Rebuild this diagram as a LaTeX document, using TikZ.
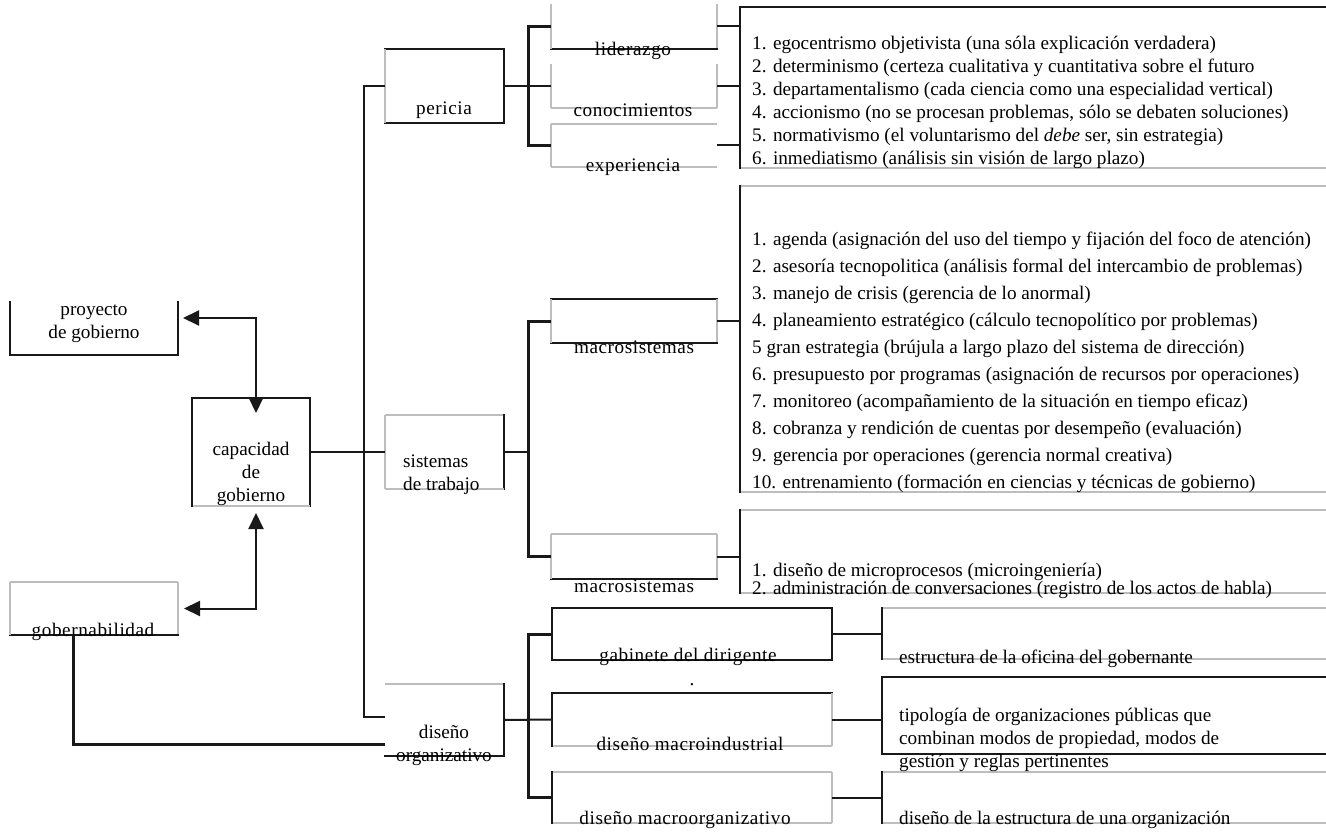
\documentclass[tikz,border=0pt]{standalone}
\usepackage{fontspec}
\setmainfont{Liberation Serif}
\usetikzlibrary{arrows.meta}

\begin{document}
\begin{tikzpicture}[x=1pt, y=-1pt,
    box/.style = {rectangle, inner sep=0pt, outer sep=0pt},
    dk/.style = {draw=black!90, line width=2pt, line cap=rect},
    lt/.style = {draw=black!26, line width=1.5pt},
    no/.style = {draw=none},
    ln/.style = {draw=black!90, line width=2pt},
    trk/.style = {draw=black!90, line width=3pt},
    dbl/.style = {ln, {Triangle[length=16pt,width=15pt]}-{Triangle[length=16pt,width=15pt]}},
    txt/.style = {inner sep=0pt, font=\fontsize{19.2}{23}\selectfont},
    lbl/.style = {inner sep=0pt, font=\fontsize{19.2}{23}\selectfont\addfontfeature{LetterSpace=3}},
    item/.style = {txt, anchor=west}]

\path[fill=white, use as bounding box] (0,0) rectangle (1326,832);

% boxes
\node[box, minimum width=168, minimum height=53] (proy) at (94,328.5) {};
\node[box, minimum width=118, minimum height=108] (cap) at (251,452) {};
\node[box, minimum width=168, minimum height=53] (gob) at (94,608.5) {};
\node[box, minimum width=119, minimum height=74] (per) at (444.5,86) {};
\node[box, minimum width=119, minimum height=74] (sis) at (444.5,452) {};
\node[box, minimum width=119, minimum height=72] (dor) at (444.5,720) {};
\node[box, minimum width=166, minimum height=45] (lid) at (634,26.5) {};
\node[box, minimum width=166, minimum height=44] (con) at (634,86) {};
\node[box, minimum width=166, minimum height=43] (exp) at (634,145.5) {};
\node[box, minimum width=166, minimum height=44] (ms1) at (634,321) {};
\node[box, minimum width=166, minimum height=45] (ms2) at (634,556.5) {};
\node[box, minimum width=280, minimum height=52] (gab) at (692,634) {};
\node[box, minimum width=280, minimum height=53] (mind) at (692,719.5) {};
\node[box, minimum width=280, minimum height=51] (morg) at (692,797.5) {};
\node[box, minimum width=586, minimum height=161] (la) at (1033,87.5) {};
\node[box, minimum width=586, minimum height=306] (lb) at (1033,339) {};
\node[box, minimum width=586, minimum height=83] (lc) at (1033,551.5) {};
\node[box, minimum width=444, minimum height=51] (ra) at (1104,633.5) {};
\node[box, minimum width=444, minimum height=77] (rb) at (1104,715.5) {};
\node[box, minimum width=444, minimum height=51] (rc) at (1104,797.5) {};

% sides: top/right/bottom/left
\foreach \bn/\bt/\br/\bb/\bl in {
    proy/no/dk/dk/dk, cap/dk/dk/lt/dk, gob/lt/lt/dk/lt,
    per/dk/dk/dk/lt, sis/lt/dk/lt/lt, dor/lt/dk/dk/no,
    lid/no/lt/dk/lt, con/no/lt/lt/lt, exp/lt/no/lt/lt,
    ms1/dk/lt/dk/lt, ms2/lt/lt/dk/lt,
    gab/dk/dk/dk/dk, mind/dk/lt/lt/dk, morg/lt/lt/lt/dk,
    la/dk/no/lt/dk, lb/lt/no/lt/dk, lc/lt/no/lt/dk,
    ra/lt/no/lt/dk, rb/dk/no/dk/dk, rc/lt/no/lt/dk} {
  \draw[\bt] (\bn.north west) -- (\bn.north east);
  \draw[\br] (\bn.north east) -- (\bn.south east);
  \draw[\bb] (\bn.south east) -- (\bn.south west);
  \draw[\bl] (\bn.south west) -- (\bn.north west);
}

% labels
\node[txt, align=center] (tproy) at (94,324) {proyecto\\de gobierno};
\node[txt, align=center] (tcap) at (251,474) {capacidad\\de\\gobierno};
\node[lbl] (tgob) at (93,632) {gobernabilidad};
\node[lbl] (tper) at (444,110) {pericia};
\node[txt, align=left, anchor=west] (tsis) at (403,475) {sistemas\\de trabajo};
\node[txt, align=center] (tdor) at (444,745) {diseño\\organizativo};
\node[lbl] (tlid) at (633,51) {liderazgo};
\node[lbl] (tcon) at (633,110) {conocimientos};
\node[lbl] (texp) at (633,167) {experiencia};
\node[lbl] (tms1) at (634,347) {macrosistemas};
\node[lbl] (tms2) at (634,586) {macrosistemas};
\node[lbl] (tgab) at (688,657) {gabinete del dirigente};
\node[lbl] (tmind) at (690,744) {diseño macroindustrial};
\node[lbl] (tmorg) at (685,820) {diseño macroorganizativo};
\node[txt] (dot) at (692,685) {.};

% lists
\foreach \entry [count=\i] in {
    {1. egocentrismo objetivista (una sóla explicación verdadera)},
    {2. determinismo (certeza cualitativa y cuantitativa sobre el futuro},
    {3. departamentalismo (cada ciencia como una especialidad vertical)},
    {4. accionismo (no se procesan problemas, sólo se debaten soluciones)},
    {5. normativismo (el voluntarismo del \textit{debe} ser, sin estrategia)},
    {6. inmediatismo (análisis sin visión de largo plazo)}}
  \node[item] (a\i) at (752,{22+23*\i}) {\entry};
\foreach \entry [count=\i] in {
    {1. agenda (asignación del uso del tiempo y fijación del foco de atención)},
    {2. asesoría tecnopolitica (análisis formal del intercambio de problemas)},
    {3. manejo de crisis (gerencia de lo anormal)},
    {4. planeamiento estratégico (cálculo tecnopolítico por problemas)},
    {5 gran estrategia (brújula a largo plazo del sistema de dirección)},
    {6. presupuesto por programas (asignación de recursos por operaciones)},
    {7. monitoreo (acompañamiento de la situación en tiempo eficaz)},
    {8. cobranza y rendición de cuentas por desempeño (evaluación)},
    {9. gerencia por operaciones (gerencia normal creativa)},
    {10. entrenamiento (formación en ciencias y técnicas de gobierno)}}
  \node[item] (b\i) at (752,{214+27*\i}) {\entry};
\foreach \entry [count=\i] in {
    {1. diseño de microprocesos (microingeniería)},
    {2. administración de conversaciones (registro de los actos de habla)}}
  \node[item] (c\i) at (752,{554+18*\i}) {\entry};
\node[item] (r1) at (899,659) {estructura de la oficina del gobernante};
\node[item, align=left] (r2) at (899,740) {tipología de organizaciones públicas que\\combinan modos de propiedad, modos de\\gestión y reglas pertinentes};
\node[item] (r3) at (899,820) {diseño de la estructura de una organización};

% connectors
\draw[ln] (per.west) -- ++(-21,0) |- ([yshift=3pt]dor.west);
\draw[ln] (cap.east) -- (sis.west);
\draw[ln] (per.east) -- (con.west);
\draw[trk] (lid.west) -| ([xshift=24pt]per.east) |- (exp.west);
\draw[ln] (sis.east) -- ++(24,0);
\draw[trk] (ms1.west) -| ([xshift=24pt]sis.east) |- (ms2.west);
\draw[ln] (dor.east) -- (mind.west);
\draw[trk] (gab.west) -| ([xshift=24pt]dor.east) |- (morg.west);
\foreach \src/\dst in {lid/la, con/la, exp/la, ms1/lb, ms2/lc, gab/ra, mind/rb, morg/rc}
  \draw[ln] (\src.east) -- (\src.east -| \dst.west);
\draw[trk] ([xshift=-21pt]gob.south) |- ([yshift=-24pt]dor.west);
\draw[dbl] ([xshift=5pt,yshift=10.5pt]proy.east) -| ([xshift=5pt,yshift=-15pt]cap.north);
\draw[dbl] ([xshift=5pt,yshift=-7pt]cap.south) |- ([xshift=6pt]gob.east);
\end{tikzpicture}
\end{document}
